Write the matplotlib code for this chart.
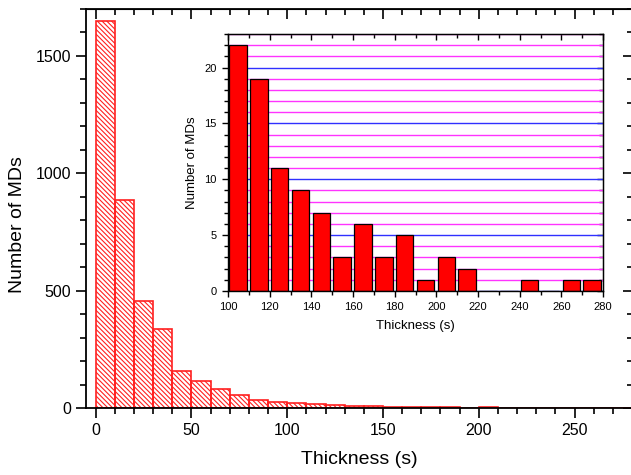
import matplotlib.pyplot as plt
from matplotlib.ticker import MultipleLocator

plt.rcParams['font.family'] = ['Liberation Sans', 'DejaVu Sans']

# histogram of MD thickness, 10 s bins
bin_left = list(range(0, 280, 10))
counts = [1650, 885, 458, 338, 159, 116, 80, 54, 35, 26,
          22, 19, 11, 9, 7, 3, 6, 3, 5, 1,
          3, 2, 0, 0, 1, 0, 1, 1]

# zoomed part (100-280 s)
inset_left = bin_left[10:]
inset_counts = counts[10:]

fig = plt.figure(figsize=(6.31, 4.75), dpi=100)
plt.rcParams['hatch.color'] = '#ff2020'
plt.rcParams['hatch.linewidth'] = 0.8

ax = fig.add_axes([86 / 631, 67 / 475, 546.5 / 631, 399 / 475])
ax.bar(bin_left, counts, width=10, align='edge', facecolor='none',
       edgecolor='#ff2020', hatch='\\' * 7, linewidth=1.2)
ax.set_xlim(-5, 280.2)
ax.set_ylim(0, 1700)
ax.xaxis.set_major_locator(MultipleLocator(50))
ax.xaxis.set_minor_locator(MultipleLocator(10))
ax.yaxis.set_major_locator(MultipleLocator(500))
ax.yaxis.set_minor_locator(MultipleLocator(100))
ax.tick_params(which='both', direction='out', width=1.2, labelsize=11.5)
ax.tick_params(which='major', length=7)
ax.tick_params(which='minor', length=4)
for s in ax.spines.values():
    s.set_linewidth(1.3)
ax.set_xlabel('Thickness (s)', fontsize=14, labelpad=10)
ax.set_ylabel('Number of MDs', fontsize=14)
ax.yaxis.set_label_coords(-0.11, 0.46)

# mirrored ticks pointing inward on top and right
top = ax.secondary_xaxis('top')
top.xaxis.set_major_locator(MultipleLocator(50))
top.xaxis.set_minor_locator(MultipleLocator(10))
top.tick_params(which='both', direction='in', width=1.2, labeltop=False)
top.tick_params(which='major', length=7)
top.tick_params(which='minor', length=4)
right = ax.secondary_yaxis('right')
right.yaxis.set_major_locator(MultipleLocator(500))
right.yaxis.set_minor_locator(MultipleLocator(100))
right.tick_params(which='both', direction='in', width=1.2, labelright=False)
right.tick_params(which='major', length=7)
right.tick_params(which='minor', length=4)

# inset
axi = fig.add_axes([228 / 631, 184 / 475, 375 / 631, 257 / 475])
axi.set_axisbelow(True)
axi.bar([x + 0.6 for x in inset_left], inset_counts, width=8.4, align='edge',
        color='red', edgecolor='black', linewidth=0.9)
axi.set_xlim(100, 280)
axi.set_ylim(0, 23)
axi.xaxis.set_major_locator(MultipleLocator(20))
axi.xaxis.set_minor_locator(MultipleLocator(10))
axi.yaxis.set_major_locator(MultipleLocator(5))
axi.yaxis.set_minor_locator(MultipleLocator(1))
axi.grid(which='major', axis='y', color='#3030ff', linewidth=1.0)
axi.grid(which='minor', axis='y', color='#ff33ff', linewidth=1.0)
axi.tick_params(which='both', direction='out', width=1.0, labelsize=8)
axi.tick_params(which='major', length=4.5)
axi.tick_params(which='minor', length=3)
for s in axi.spines.values():
    s.set_linewidth(1.0)
axi.set_xlabel('Thickness (s)', fontsize=9.5, labelpad=6)
axi.set_ylabel('Number of MDs', fontsize=9.5, labelpad=5)

itop = axi.secondary_xaxis('top')
itop.xaxis.set_major_locator(MultipleLocator(20))
itop.xaxis.set_minor_locator(MultipleLocator(10))
itop.tick_params(which='both', direction='in', width=1.0, labeltop=False)
itop.tick_params(which='major', length=4.5)
itop.tick_params(which='minor', length=3)
iright = axi.secondary_yaxis('right')
iright.yaxis.set_major_locator(MultipleLocator(5))
iright.yaxis.set_minor_locator(MultipleLocator(1))
iright.tick_params(which='both', direction='in', width=1.0, labelright=False)
iright.tick_params(which='major', length=4.5)
iright.tick_params(which='minor', length=3)

fig.savefig('out.png', dpi=100)
